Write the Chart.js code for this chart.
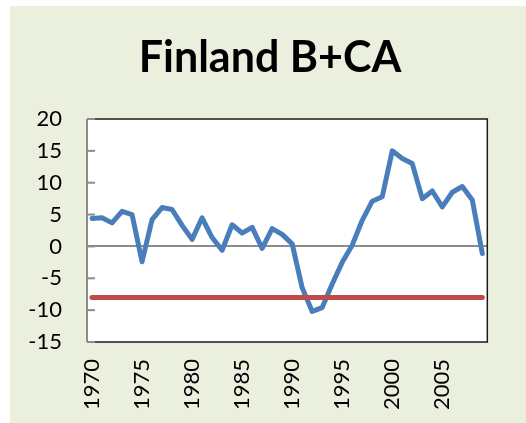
<!DOCTYPE html>
<html>
<head>
<meta charset="utf-8">
<script src="https://cdn.jsdelivr.net/npm/chart.js@4/dist/chart.umd.min.js"></script>
<style>
  html, body { margin: 0; padding: 0; background: #ffffff; }
  #panel { position: absolute; left: 10px; top: 6px; width: 516px; height: 417px; background: #EBF0DE; }
  canvas { display: block; }
</style>
</head>
<body>
<div id="panel"><canvas id="c" width="516" height="417"></canvas></div>
<script>
const titleText = 'Finland B+CA';
const years = ['1970','1971','1972','1973','1974','1975','1976','1977','1978','1979',
               '1980','1981','1982','1983','1984','1985','1986','1987','1988','1989',
               '1990','1991','1992','1993','1994','1995','1996','1997','1998','1999',
               '2000','2001','2002','2003','2004','2005','2006','2007','2008','2009'];
const bca = [4.4, 4.5, 3.7, 5.5, 5.0, -2.4, 4.2, 6.1, 5.8, 3.3,
             1.1, 4.5, 1.4, -0.6, 3.4, 2.1, 3.0, -0.3, 2.8, 1.9,
             0.4, -6.5, -10.2, -9.6, -5.9, -2.5, 0.2, 4.1, 7.1, 7.8,
             15.0, 13.8, 13.0, 7.5, 8.7, 6.2, 8.5, 9.4, 7.3, -1.1];
const threshold = [-8, -8, -8, -8, -8, -8, -8, -8, -8, -8,
                   -8, -8, -8, -8, -8, -8, -8, -8, -8, -8,
                   -8, -8, -8, -8, -8, -8, -8, -8, -8, -8,
                   -8, -8, -8, -8, -8, -8, -8, -8, -8, -8];
const xTickLabels = ['1970','1975','1980','1985','1990','1995','2000','2005'];
const yTicks = [-15, -10, -5, 0, 5, 10, 15, 20];

const plotDecor = {
  id: 'plotDecor',
  beforeDraw(chart) {
    const {ctx, chartArea: a} = chart;
    ctx.save();
    ctx.fillStyle = '#ffffff';
    ctx.fillRect(a.left, a.top, a.right - a.left, a.bottom - a.top);
    // title
    ctx.fillStyle = '#000000';
    ctx.font = 'bold 43px Lato';
    ctx.textAlign = 'center';
    ctx.textBaseline = 'middle';
    ctx.fillText(titleText, 260, 52);
    ctx.restore();
  },
  afterDatasetsDraw(chart) {
    const {ctx, chartArea: a, scales} = chart;
    ctx.save();
    ctx.strokeStyle = '#1a1a1a';
    ctx.lineWidth = 1.5;
    ctx.beginPath();
    ctx.moveTo(a.left, a.top); ctx.lineTo(a.right, a.top);
    ctx.lineTo(a.right, a.bottom); ctx.lineTo(a.left, a.bottom);
    ctx.stroke();
    ctx.strokeStyle = '#8c8c8c';
    ctx.lineWidth = 2;
    yTicks.forEach(v => {
      const y = scales.y.getPixelForValue(v);
      ctx.beginPath();
      ctx.moveTo(a.left, y); ctx.lineTo(a.left + 8, y);
      ctx.stroke();
    });
    ctx.beginPath();
    ctx.moveTo(a.left, a.top); ctx.lineTo(a.left, a.bottom);
    ctx.stroke();
    ctx.restore();
  }
};

new Chart(document.getElementById('c'), {
  type: 'line',
  data: {
    labels: years,
    datasets: [
      { data: threshold, borderColor: '#BE4B48', borderWidth: 5, pointRadius: 0,
        borderCapStyle: 'round', tension: 0 },
      { data: bca, borderColor: '#4A7EBB', borderWidth: 5, pointRadius: 0,
        borderJoinStyle: 'round', borderCapStyle: 'round', tension: 0 }
    ]
  },
  options: {
    responsive: false,
    animation: false,
    layout: { padding: { top: 113, right: 22, left: 0, bottom: 0 } },
    plugins: {
      legend: { display: false },
      tooltip: { enabled: false },
      title: { display: false }
    },
    scales: {
      x: {
        type: 'category',
        offset: true,
        grid: { display: false, drawTicks: false },
        border: { display: false },
        ticks: {
          autoSkip: false,
          minRotation: 90,
          maxRotation: 90,
          padding: 17,
          color: '#000000',
          font: { family: 'Lato', size: 22 },
          callback: function(v, i) {
            const l = years[i];
            return xTickLabels.includes(l) ? l : '';
          }
        },
        afterFit(scale) { scale.height = 81; }
      },
      y: {
        min: -15,
        max: 20,
        grid: {
          drawTicks: false,
          color: ctx => (ctx.tick && ctx.tick.value === 0) ? '#8c8c8c' : 'rgba(0,0,0,0)',
          lineWidth: 2
        },
        border: { display: false },
        ticks: {
          stepSize: 5,
          padding: 25,
          color: '#000000',
          font: { family: 'Lato', size: 22 }
        },
        afterFit(scale) { scale.width = 77; }
      }
    }
  },
  plugins: [plotDecor]
});
</script>
</body>
</html>
